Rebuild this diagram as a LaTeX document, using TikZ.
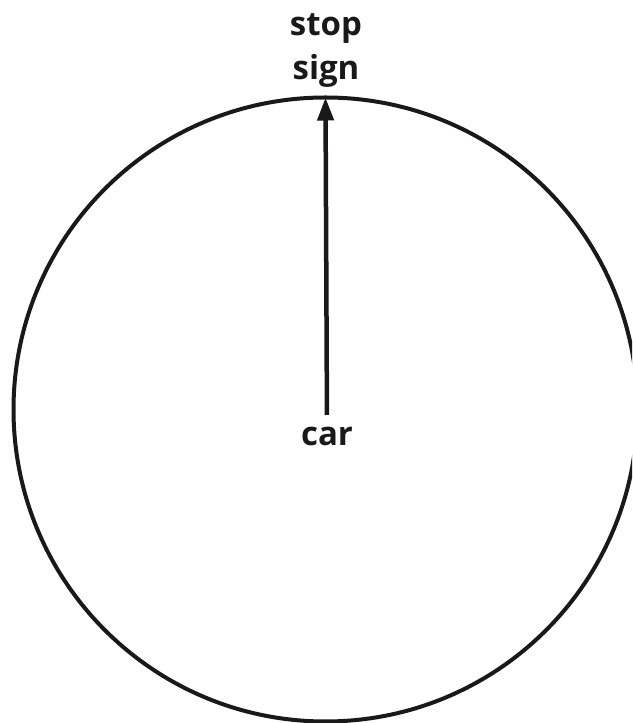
\documentclass[tikz,border=0pt]{standalone}
\usepackage{fontspec}
\setmainfont{Open Sans}
\usetikzlibrary{arrows.meta}
\tikzset{
  lbl/.style={font=\fontsize{33pt}{44pt}\selectfont\bfseries, text=black!90, inner sep=0pt, align=center},
  ring/.style={circle, draw=black!90, line width=4pt, minimum size=624pt, inner sep=0pt, outer sep=0pt},
  arr/.style={draw=black!90, line width=4.5pt, -{Triangle[width=16pt,length=23pt]}}
}
\begin{document}
\begin{tikzpicture}[x=1pt,y=1pt]
\useasboundingbox (0,0) rectangle (632,723);
\begin{scope}
\clip (0,0) rectangle (632,723);
\node[ring] (c) at (325.5,313.5) {};
\node[lbl, anchor=north] (car) at (327,296) {car};
\node[lbl] (stop) at (326,672) {stop\\sign};
\draw[arr, shorten <=12pt] (car.north) -- (c.north);
\end{scope}
\end{tikzpicture}
\end{document}
